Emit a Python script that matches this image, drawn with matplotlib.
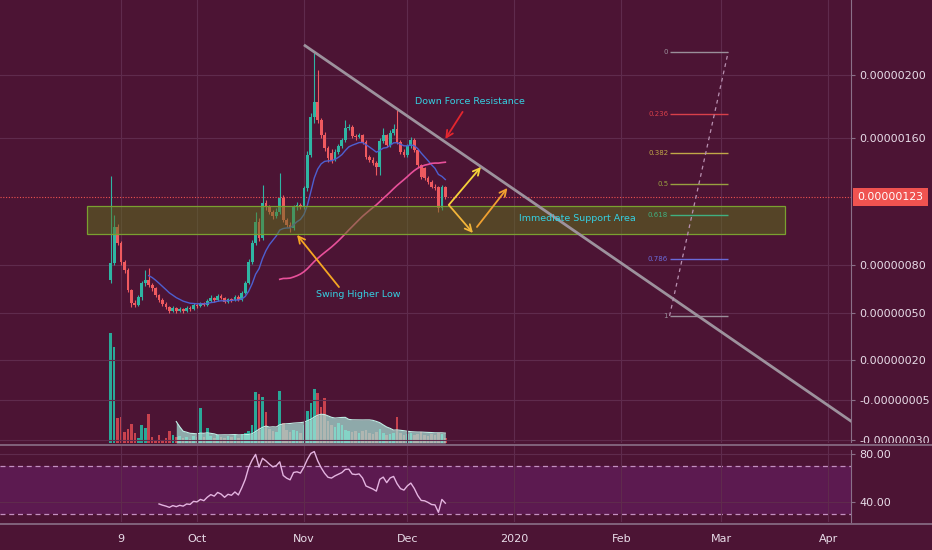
import numpy as np
import pandas as pd
import matplotlib
matplotlib.use("Agg")
import matplotlib.pyplot as plt
import matplotlib.dates as mdates
from matplotlib.patches import Rectangle
from matplotlib.lines import Line2D
from matplotlib.ticker import FuncFormatter

# ---------------- data (prices in units of 1e-8) ----------------
dates = pd.date_range("2019-09-06", periods=98, freq="D")
opens = [70.7, 81.4, 104.1, 94.0, 82.0, 77.0, 64.4, 56.2, 54.9, 60.0,
         68.8, 70.7, 67.5, 65.6, 61.2, 58.0, 55.5, 53.6, 51.1, 53.0,
         51.1, 52.4, 51.1, 53.0, 52.4, 54.9, 54.3, 56.2, 54.9, 57.4,
         59.3, 58.0, 60.6, 59.3, 56.8, 58.7, 58.0, 60.0, 58.0, 62.5,
         68.8, 82.0, 94.0, 107.3, 97.2, 119.2, 116.7, 113.6, 111.0, 113.6,
         122.4, 108.5, 105.4, 103.5, 116.7, 118.0, 116.7, 128.7, 149.5, 173.5,
         183.0, 171.6, 162.1, 153.9, 150.8, 146.4, 151.4, 155.2, 159.0, 166.6,
         167.2, 161.5, 160.9, 162.1, 157.7, 148.3, 146.4, 144.5, 142.0, 158.4,
         162.1, 155.8, 163.4, 165.9, 157.7, 151.4, 149.5, 155.2, 159.0, 152.7,
         143.2, 141.3, 135.0, 132.5, 129.3, 129.3, 116.1, 129.3]
highs = [136.0, 111.7, 106.0, 95.0, 83.0, 78.0, 65.0, 58.0, 61.0, 70.0,
         77.0, 78.2, 68.5, 66.0, 62.0, 59.0, 56.5, 54.5, 54.0, 53.5,
         53.5, 53.0, 54.0, 54.0, 56.0, 56.0, 57.0, 57.0, 58.5, 61.0,
         60.0, 62.0, 62.0, 60.0, 59.5, 59.5, 61.0, 61.0, 63.5, 70.0,
         84.0, 96.0, 113.6, 110.0, 130.6, 121.0, 118.0, 115.0, 116.0, 138.2,
         124.0, 110.0, 107.0, 118.0, 120.0, 119.5, 130.0, 152.0, 176.0, 213.9,
         203.2, 173.0, 164.0, 155.0, 153.5, 153.0, 156.5, 160.5, 171.6, 169.0,
         168.5, 163.0, 163.5, 163.0, 159.0, 149.5, 148.0, 146.0, 160.0, 166.6,
         163.0, 165.0, 169.1, 177.9, 159.0, 153.0, 156.5, 161.0, 160.0, 153.5,
         144.0, 142.0, 136.0, 133.5, 131.0, 130.0, 130.5, 130.0]
lows = [68.5, 80.0, 93.0, 80.0, 75.0, 63.0, 53.6, 53.5, 54.0, 58.0,
        67.0, 66.0, 64.0, 60.0, 57.0, 54.5, 52.5, 50.0, 50.5, 50.0,
        50.5, 50.0, 50.5, 51.0, 51.5, 53.0, 53.5, 54.0, 54.0, 56.5,
        57.0, 57.5, 58.5, 56.0, 56.0, 57.0, 57.5, 57.5, 57.5, 62.0,
        68.0, 81.0, 93.0, 95.0, 96.0, 115.0, 112.0, 109.0, 110.0, 112.0,
        107.0, 104.0, 100.9, 102.5, 115.0, 115.5, 115.5, 127.0, 148.0, 170.0,
        170.0, 160.0, 152.0, 145.0, 144.5, 145.5, 150.0, 154.0, 158.0, 165.0,
        160.0, 159.0, 160.0, 156.5, 147.0, 145.0, 143.0, 136.9, 136.9, 157.0,
        154.5, 154.5, 162.0, 156.5, 150.0, 148.0, 148.5, 154.0, 151.5, 142.0,
        134.5, 134.0, 131.5, 128.5, 127.5, 113.6, 115.0, 122.0]
closes = [81.4, 104.1, 94.0, 82.0, 77.0, 64.4, 56.2, 54.9, 60.0, 68.8,
          70.7, 67.5, 65.6, 61.2, 58.0, 55.5, 53.6, 51.1, 53.0, 51.1,
          52.4, 51.1, 53.0, 52.4, 54.9, 54.3, 56.2, 54.9, 57.4, 59.3,
          58.0, 60.6, 59.3, 56.8, 58.7, 58.0, 60.0, 58.0, 62.5, 68.8,
          82.0, 94.0, 107.3, 97.2, 119.2, 116.7, 113.6, 111.0, 113.6, 122.4,
          108.5, 105.4, 103.5, 116.7, 118.0, 116.7, 128.7, 149.5, 173.5, 183.0,
          171.6, 162.1, 153.9, 147.6, 146.4, 151.4, 155.2, 159.0, 166.6, 167.2,
          161.5, 160.9, 162.1, 157.7, 148.3, 146.4, 144.5, 142.0, 158.4, 162.1,
          155.8, 163.4, 165.9, 157.7, 151.4, 149.5, 155.2, 159.0, 152.7, 143.2,
          135.6, 135.0, 132.5, 129.3, 128.7, 116.1, 129.3, 123.0]
volumes = [110, 96, 25, 26, 11, 14, 19, 10, 5, 18,
           15, 29, 6, 3, 8, 3, 5, 12, 8, 6,
           7, 5, 6, 4, 7, 6, 35, 6, 15, 7,
           5, 8, 6, 5, 7, 6, 8, 5, 9, 10,
           12, 18, 51, 49, 46, 31, 14, 12, 11, 52,
           20, 13, 11, 13, 12, 10, 18, 32, 40, 54,
           50, 36, 45, 22, 18, 16, 20, 18, 13, 12,
           11, 12, 10, 12, 13, 10, 9, 11, 14, 10,
           8, 9, 10, 26, 10, 8, 9, 10, 8, 9,
           11, 8, 7, 9, 8, 10, 9, 5]

price_ticks = [200, 160, 80, 50, 20, -5, -30]
rsi_ticks = [80, 40]
x_tick_dates = ["2019-09-09", "2019-10-01", "2019-11-01", "2019-12-01",
                "2020-01-01", "2020-02-01", "2020-03-01", "2020-04-01"]
x_tick_labels = ["9", "Oct", "Nov", "Dec", "2020", "Feb", "Mar", "Apr"]
last_price = 123.0

fib_levels = [0, 0.236, 0.382, 0.5, 0.618, 0.786, 1]
fib_labels = ["0", "0.236", "0.382", "0.5", "0.618", "0.786", "1"]
fib_high, fib_low = 214.5, 48.0
fib_start, fib_end = "2020-02-15", "2020-03-03"

trend_pts = [("2019-11-01", 219.0), ("2020-04-10", -22.0)]
support_box = ("2019-08-30", "2020-03-19 12:00", 99.7, 117.4)

# ---------------- style ----------------
BG = "#4c1434"
GRID = "#5f2b4d"
TXT = "#e8dce8"
GREEN = "#2fb5a3"
RED = "#ef5a5f"
CYAN = "#35d0e2"
fib_colors = ["#9a8f9a", "#d8404a", "#c0a848", "#98a040", "#40b080", "#6a6ad8", "#9a8f9a"]

W, H = 932, 550
fig = plt.figure(figsize=(W / 100, H / 100), dpi=100, facecolor=BG)

def rect(top, bottom):
    return [0, (H - bottom) / H, 851 / W, (bottom - top) / H]

x = mdates.date2num(dates)
o = np.array(opens); h = np.array(highs); l = np.array(lows); c = np.array(closes)
v = np.array(volumes, dtype=float)
d0 = mdates.date2num(pd.Timestamp("2019-10-01"))
xlim = (d0 - 57.1, d0 + 189.6)
xt = mdates.date2num(pd.to_datetime(x_tick_dates))

# volume pane (beneath price)
axv = fig.add_axes(rect(0, 443), zorder=1)
axv.set_facecolor(BG)
axv.set_xlim(*xlim)
axv.set_ylim(0, 443)
axv.axis("off")
up = c >= o
vcol = np.where(up, "#2aa898", "#c8424e")
axv.bar(x, v, width=0.75, color=vcol, linewidth=0, zorder=1)
vma = pd.Series(v).rolling(20).mean().values
axv.fill_between(x, 0, vma, color="#a8e4d8", alpha=0.72, linewidth=0, zorder=2)
axv.plot(x, vma, color="#c0efe6", lw=0.8, zorder=2)

# price pane
ax = fig.add_axes(rect(0, 443), zorder=2)
ax.patch.set_alpha(0)
ax.set_xlim(*xlim)
ax.set_ylim(-32.2, 247.3)
ax.set_yticks(price_ticks)
ax.yaxis.set_major_formatter(FuncFormatter(lambda val, p: f"{val / 1e8:.8f}"))
ax.yaxis.tick_right()
ax.tick_params(axis="y", colors=TXT, labelsize=8, length=3, pad=3, labelcolor=TXT)
ax.tick_params(axis="y", color="#8a7088")
ax.set_xticks(xt)
ax.tick_params(axis="x", length=0, labelbottom=False)
ax.grid(True, color=GRID, lw=0.8, zorder=0)
for s in ["top", "left", "bottom"]:
    ax.spines[s].set_visible(False)
ax.spines["right"].set_color("#8a7088")

ax.axhline(last_price, color="#ef5350", lw=0.8, ls=(0, (1, 1.5)), zorder=2)

colors = np.where(up, GREEN, RED)
ax.vlines(x, l, h, colors=colors, lw=0.8, zorder=3)
ax.bar(x, np.maximum(np.abs(c - o), 0.6), bottom=np.minimum(o, c), width=0.8,
       color=colors, linewidth=0, zorder=3)

# EMA(12) seeded with SMA, and SMA(50)
n_fast = 12
ema = np.full(len(c), np.nan)
ema[n_fast - 1] = c[:n_fast].mean()
alpha = 2 / (n_fast + 1)
for i in range(n_fast, len(c)):
    ema[i] = ema[i - 1] + alpha * (c[i] - ema[i - 1])
ma_slow = pd.Series(c).rolling(50).mean().values
ax.plot(x, ema, color="#4e5fd0", lw=1.0, zorder=4)
ax.plot(x, ma_slow, color="#e8509a", lw=1.2, zorder=4)

# support area
bx0, bx1 = mdates.date2num(pd.Timestamp(support_box[0])), mdates.date2num(pd.Timestamp(support_box[1]))
ax.add_patch(Rectangle((bx0, support_box[2]), bx1 - bx0, support_box[3] - support_box[2],
                       facecolor="#5e741c", alpha=0.5, edgecolor="none", zorder=5))
ax.add_patch(Rectangle((bx0, support_box[2]), bx1 - bx0, support_box[3] - support_box[2],
                       facecolor="none", edgecolor="#7aa030", lw=0.9, zorder=5))

# trend line
tx = mdates.date2num(pd.to_datetime([p[0] for p in trend_pts]))
ax.plot(tx, [p[1] for p in trend_pts], color="#9d929d", lw=2, zorder=6, solid_capstyle="butt")

# fibonacci
fx0, fx1 = mdates.date2num(pd.Timestamp(fib_start)), mdates.date2num(pd.Timestamp(fib_end))
for lev, lab, col in zip(fib_levels, fib_labels, fib_colors):
    pv = fib_high - lev * (fib_high - fib_low)
    ax.hlines(pv, fx0, fx1, color=col, lw=1, zorder=6)
    ax.text(fx0 - 0.4, pv, lab, color=col, fontsize=5, ha="right", va="center", zorder=6)
ax.plot([fx0, fx1], [fib_low, fib_high], color="#b890b0", lw=0.9, ls=(0, (3, 3)), zorder=6)

# annotations
def D(s):
    return mdates.date2num(pd.Timestamp(s))

ax.text(D("2019-12-19"), 183, "Down Force Resistance", color=CYAN, fontsize=6.8,
        ha="center", va="center", zorder=7)
ax.text(D("2020-01-19 08:00"), 109.2, "Immediate Support Area", color=CYAN, fontsize=6.8,
        ha="center", va="center", zorder=7)
ax.text(D("2019-11-16 16:00"), 61.8, "Swing Higher Low", color=CYAN, fontsize=6.8,
        ha="center", va="center", zorder=7)

arrows = [
    (("2019-12-17", 176.7), ("2019-12-12", 159.6), "#e3262e"),
    (("2019-11-11 04:00", 66.2), ("2019-10-30", 99.1), "#f5a623"),
    (("2019-12-13", 118.0), ("2019-12-22 08:00", 142.0), "#f5d23a"),
    (("2019-12-13", 118.0), ("2019-12-20", 100.3), "#f2b53a"),
    (("2019-12-21 04:00", 104.1), ("2019-12-30", 128.7), "#f0a030"),
]
for (t, ty), (hd, hy), col in arrows:
    ax.annotate("", xy=(D(hd), hy), xytext=(D(t), ty),
                arrowprops=dict(arrowstyle="->", color=col, lw=1.3, mutation_scale=12,
                                shrinkA=0, shrinkB=0), zorder=7)

# last price label
ax.text(1.0075, last_price, f"{last_price / 1e8:.8f}", transform=ax.get_yaxis_transform(),
        color="#ffffff", fontsize=7.8, ha="left", va="center", zorder=10, clip_on=False,
        bbox=dict(boxstyle="square,pad=0.4", facecolor="#ef5350", edgecolor="none"))

# RSI pane
axr = fig.add_axes(rect(446, 522), zorder=2)
axr.set_facecolor(BG)
axr.set_xlim(*xlim)
axr.set_ylim(23.3, 86.7)
axr.axhspan(30, 70, color="#5c1a50", lw=0, zorder=0)
axr.axhline(70, color="#c490c0", lw=0.9, ls=(0, (4, 3)), zorder=1)
axr.axhline(30, color="#c490c0", lw=0.9, ls=(0, (4, 3)), zorder=1)
delta = np.diff(c, prepend=np.nan)
gain = np.where(delta > 0, delta, 0.0)
loss = np.where(delta < 0, -delta, 0.0)
n = 14
ag = np.full(len(c), np.nan); al = np.full(len(c), np.nan)
ag[n] = gain[1:n + 1].mean(); al[n] = loss[1:n + 1].mean()
for i in range(n + 1, len(c)):
    ag[i] = (ag[i - 1] * (n - 1) + gain[i]) / n
    al[i] = (al[i - 1] * (n - 1) + loss[i]) / n
rsi = 100 - 100 / (1 + ag / al)
axr.plot(x, rsi, color="#e4b4e0", lw=1.0, zorder=3)
axr.set_yticks(rsi_ticks)
axr.yaxis.set_major_formatter(FuncFormatter(lambda val, p: f"{val:.2f}"))
axr.yaxis.tick_right()
axr.tick_params(axis="y", colors=TXT, labelsize=8, length=3, pad=3, color="#8a7088")
axr.set_xticks(xt)
axr.set_xticklabels(x_tick_labels)
axr.tick_params(axis="x", length=0, pad=9, labelsize=8, colors=TXT)
axr.grid(True, color=GRID, lw=0.8, zorder=0)
for s in ["top", "left", "bottom"]:
    axr.spines[s].set_visible(False)
axr.spines["right"].set_color("#8a7088")

# cover the lower part of the bottom price label (it runs under the RSI pane)
fig.add_artist(Rectangle((851 / W, 1 - 450 / H), 81 / W, 7 / H, transform=fig.transFigure,
                         facecolor=BG, edgecolor="none", zorder=20))

# pane separators
for yy in (444.5, 523.5):
    fig.add_artist(Line2D([0, 1], [1 - yy / H, 1 - yy / H], color="#8a7088", lw=1.2, zorder=21))

fig.savefig("out.png", dpi=100, facecolor=BG)
